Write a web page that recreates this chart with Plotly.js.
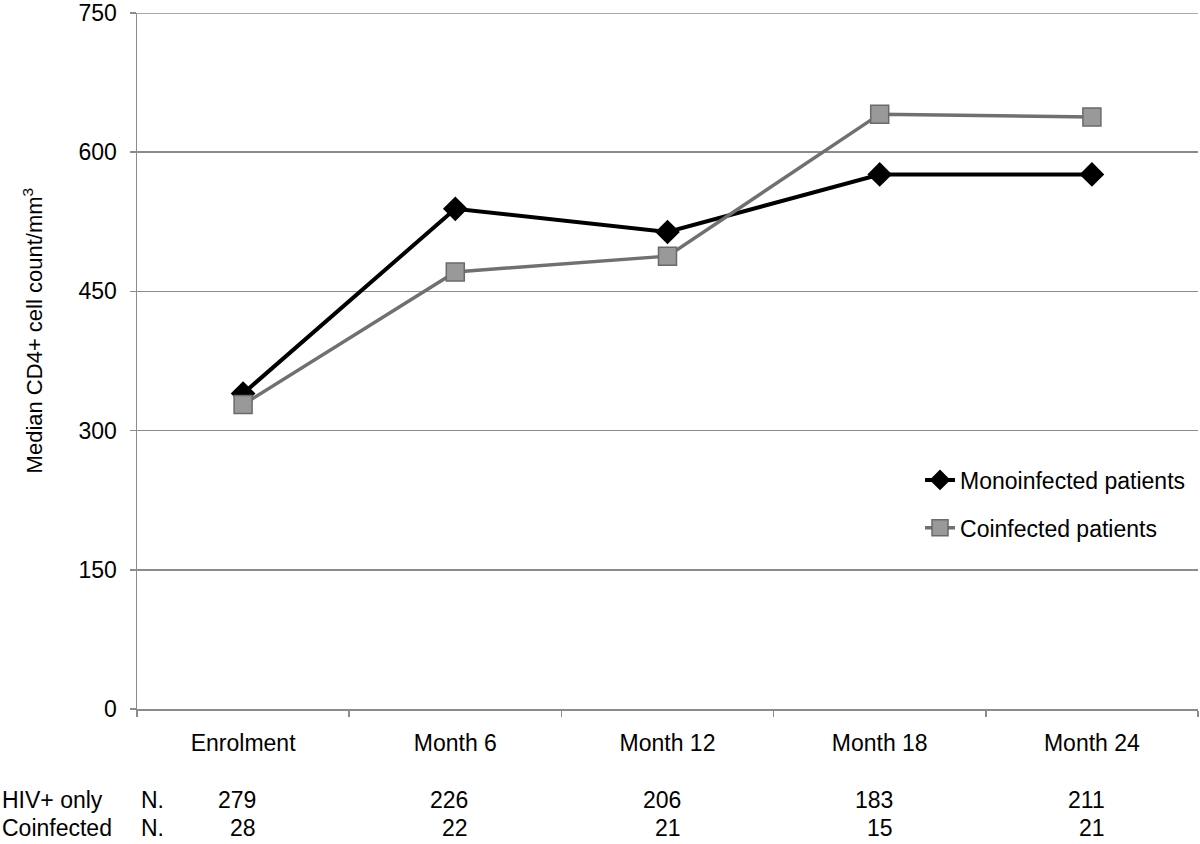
<!DOCTYPE html>
<html>
<head>
<meta charset="utf-8">
<script src="https://cdn.plot.ly/plotly-3.0.1.min.js"></script>
<style>html,body{margin:0;padding:0;background:#fff;}#chart{width:1200px;height:844px;}</style>
</head>
<body>
<div id="chart"></div>
<script>
const categories = ["Enrolment", "Month 6", "Month 12", "Month 18", "Month 24"];
const monoinfected = [340, 539, 514, 576, 576];
const coinfected = [328, 471, 488, 641, 638];
const nHivOnly = [279, 226, 206, 183, 211];
const nCoinfected = [28, 22, 21, 15, 21];
const yTicks = [0, 150, 300, 450, 600, 750];

const FONT = "Liberation Sans, Arial, sans-serif";
const FS = 23;

const traces = [
  {
    x: categories, y: monoinfected, type: "scatter", mode: "lines+markers",
    name: "Monoinfected patients", legendgroup: "a",
    line: {color: "#000000", width: 4},
    marker: {symbol: "diamond", size: 19, color: "#000000"}
  },
  {
    x: categories, y: coinfected, type: "scatter", mode: "lines+markers",
    name: "Coinfected patients", legendgroup: "b",
    line: {color: "#707070", width: 3.5},
    marker: {symbol: "square", size: 18, color: "#999999", line: {color: "#6a6a6a", width: 1.5}}
  }
];

const annotations = [];
const rowY = [-0.131, -0.171];
const rowLabels = ["HIV+ only", "Coinfected"];
[nHivOnly, nCoinfected].forEach((arr, r) => {
  annotations.push({xref: "paper", yref: "paper", x: -0.129, y: rowY[r], xanchor: "left", yanchor: "middle",
    text: rowLabels[r], showarrow: false, font: {family: FONT, size: FS, color: "#000"}});
  annotations.push({xref: "paper", yref: "paper", x: 0.002, y: rowY[r], xanchor: "left", yanchor: "middle",
    text: "N.", showarrow: false, font: {family: FONT, size: FS, color: "#000"}});
  arr.forEach((v, i) => {
    annotations.push({xref: "x", yref: "paper", x: categories[i], y: rowY[r], xanchor: "right", yanchor: "middle",
      xshift: 15, text: String(v), showarrow: false, font: {family: FONT, size: FS, color: "#000"}});
  });
});
annotations.push({xref: "paper", yref: "paper", x: -0.098, y: 0.544, xanchor: "center", yanchor: "middle",
  textangle: -90, text: "Median CD4+ cell count/mm<sup>3</sup>", showarrow: false,
  font: {family: FONT, size: 22, color: "#000"}});

const topTick = yTicks[yTicks.length - 1];
const layout = {
  width: 1200, height: 844,
  margin: {l: 137, r: 2, t: 13, b: 135},
  paper_bgcolor: "#fff", plot_bgcolor: "#fff",
  font: {family: FONT, size: FS, color: "#000"},
  showlegend: true,
  legend: {x: 0.738, y: 0.36, xanchor: "left", yanchor: "top", bgcolor: "rgba(0,0,0,0)",
    font: {family: FONT, size: FS, color: "#000"}, tracegroupgap: 15, traceorder: "grouped"},
  xaxis: {
    type: "category", range: [-0.5, 4.5],
    showgrid: false, showline: true, linecolor: "#8c8c8c", linewidth: 1.5,
    ticks: "outside", tickson: "boundaries", ticklen: 6, tickcolor: "#8c8c8c", tickwidth: 1.5,
    tickfont: {family: FONT, size: FS, color: "#000"}, zeroline: false, ticklabelstandoff: 13
  },
  yaxis: {
    range: [0, topTick], tickvals: yTicks, ticktext: yTicks.map(String),
    showgrid: true, gridcolor: "#8c8c8c", gridwidth: 1.5,
    showline: true, linecolor: "#8c8c8c", linewidth: 1.5,
    ticks: "outside", ticklen: 6, tickcolor: "#8c8c8c", tickwidth: 1.5,
    tickfont: {family: FONT, size: 23, color: "#000"}, zeroline: false, ticklabelstandoff: 8,
    ticklabeloverflow: "allow"
  },
  shapes: [{type: "line", xref: "paper", yref: "y", x0: 0, x1: 1, y0: topTick, y1: topTick,
    line: {color: "#8c8c8c", width: 1.5}, layer: "below"}],
  annotations: annotations
};

Plotly.newPlot("chart", traces, layout, {displayModeBar: false, staticPlot: true});
</script>
</body>
</html>
